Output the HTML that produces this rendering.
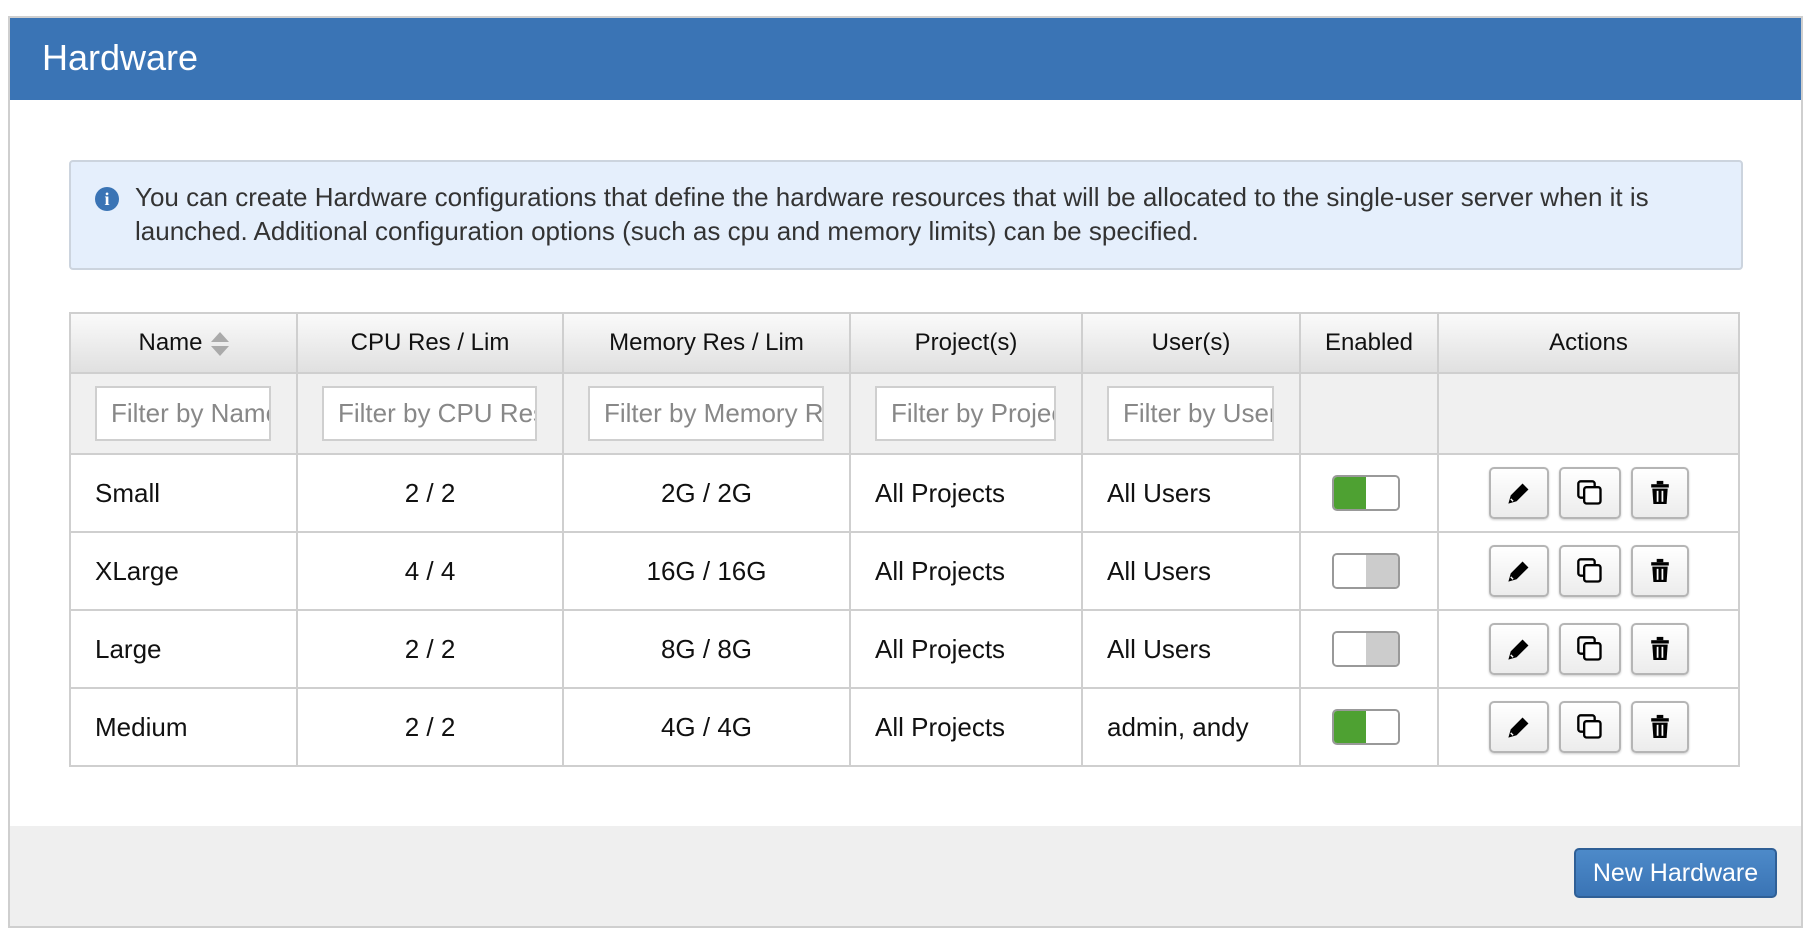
<!DOCTYPE html>
<html><head><meta charset="utf-8"><style>
*{box-sizing:border-box;margin:0;padding:0}
body{width:1814px;height:940px;background:#fff;font-family:"Liberation Sans",Arial,sans-serif;color:#111;position:relative;overflow:hidden}
.panel{position:absolute;left:8px;top:16px;width:1795px;height:912px;border:2px solid #cfcfcf;background:#fff}
.hdr{position:absolute;left:0;top:0;right:0;height:82px;background:#3a74b5;color:#fff;font-size:36px;padding:19px 0 0 32px}
.info{position:absolute;left:59px;top:142px;width:1674px;height:110px;background:#e5effc;border:2px solid #ccd4de;border-radius:4px;font-size:26px;line-height:34px;color:#333;padding:18px 0 0 64px;white-space:nowrap}
.info .ic{position:absolute;left:24px;top:25px;width:24px;height:24px;border-radius:50%;background:#3a74b5;color:#fff;font:bold 18px "Liberation Serif",serif;text-align:center;line-height:24px}
table{position:absolute;left:59px;top:294px;border-collapse:collapse;table-layout:fixed;font-size:26px}
td,th{border:2px solid #cfcfcf}
th{height:60px;font-weight:normal;background:linear-gradient(#fafafa,#e0e0e0);text-align:center;font-size:24px}
tr.f td{height:81px;background:#f0f0f0}
.inp{height:55px;border:2px solid #cfcfcf;background:#fff;color:#888;font-size:26px;padding:10px 14px;white-space:nowrap;overflow:hidden}
tr.r td{height:78px;background:#fff}
.c{text-align:center}.l{padding-left:24px}
.tg{display:inline-block;width:68px;height:36px;border:2px solid #999;border-radius:5px;overflow:hidden;vertical-align:middle;margin-left:-6px}
.tg span{display:inline-block;width:50%;height:100%;vertical-align:top}
.btn{display:inline-block;width:60px;height:52px;border:2px solid #b5b5b5;border-radius:5px;background:linear-gradient(#fff,#ececec);margin:0 5px;vertical-align:middle;position:relative;box-shadow:0 1px 2px rgba(0,0,0,.2)}
.btn svg{position:absolute;left:50%;top:50%;transform:translate(-50%,-50%)}
.foot{position:absolute;left:0;right:0;bottom:0;height:100px;background:#efefef}
.nb{position:absolute;right:24px;top:22px;width:203px;height:50px;background:linear-gradient(#4d8ac9,#3a74b5);border:2px solid #2f5f96;border-radius:5px;color:#fff;font-size:25px;text-align:center;line-height:46px}
.sort{display:inline-block;vertical-align:middle;margin-left:8px;width:18px;height:24px;position:relative}
.sort:before{content:"";position:absolute;left:0;top:0;border:9px solid transparent;border-bottom:10px solid #aaa;border-top:0}
.sort:after{content:"";position:absolute;left:0;bottom:0;border:9px solid transparent;border-top:10px solid #aaa;border-bottom:0}
</style></head><body>
<div class="panel">
<div class="hdr">Hardware</div>
<div class="info"><div class="ic">i</div>You can create Hardware configurations that define the hardware resources that will be allocated to the single-user server when it is<br>launched. Additional configuration options (such as cpu and memory limits) can be specified.</div>
<table>
<colgroup><col style="width:227px"><col style="width:266px"><col style="width:287px"><col style="width:232px"><col style="width:218px"><col style="width:138px"><col style="width:301px"></colgroup>
<tr><th>Name<span class="sort"></span></th><th>CPU Res / Lim</th><th>Memory Res / Lim</th><th>Project(s)</th><th>User(s)</th><th>Enabled</th><th>Actions</th></tr>
<tr class="f"><td style="padding-left:24px"><div class="inp" style="width:176px">Filter by Name</div></td><td style="padding-left:24px"><div class="inp" style="width:215px">Filter by CPU Res</div></td><td style="padding-left:24px"><div class="inp" style="width:236px">Filter by Memory Res</div></td><td style="padding-left:24px"><div class="inp" style="width:181px">Filter by Project</div></td><td style="padding-left:24px"><div class="inp" style="width:167px">Filter by User</div></td><td></td><td></td></tr>
<tr class="r"><td class="l">Small</td><td class="c">2 / 2</td><td class="c">2G / 2G</td><td class="l">All Projects</td><td class="l">All Users</td><td class="c"><span class="tg"><span style="background:#4ea132"></span><span style="background:#fff"></span></span></td><td class="c">B</td></tr>
<tr class="r"><td class="l">XLarge</td><td class="c">4 / 4</td><td class="c">16G / 16G</td><td class="l">All Projects</td><td class="l">All Users</td><td class="c"><span class="tg"><span style="background:#fff"></span><span style="background:#ccc"></span></span></td><td class="c">B</td></tr>
<tr class="r"><td class="l">Large</td><td class="c">2 / 2</td><td class="c">8G / 8G</td><td class="l">All Projects</td><td class="l">All Users</td><td class="c"><span class="tg"><span style="background:#fff"></span><span style="background:#ccc"></span></span></td><td class="c">B</td></tr>
<tr class="r"><td class="l">Medium</td><td class="c">2 / 2</td><td class="c">4G / 4G</td><td class="l">All Projects</td><td class="l">admin, andy</td><td class="c"><span class="tg"><span style="background:#4ea132"></span><span style="background:#fff"></span></span></td><td class="c">B</td></tr>
</table>
<div class="foot"><div class="nb">New Hardware</div></div>
</div>
<script>
var b='<span class="btn"><svg width="26" height="26" viewBox="0 0 22 22"><path d="M2 20 L4 13 L14 3 L19 8 L9 18 Z" fill="#000"/><path d="M4 16 L6 18" stroke="#fff" stroke-width="1.2"/></svg></span>'+
'<span class="btn" style="width:62px"><svg width="28" height="28" viewBox="0 0 24 24"><rect x="2" y="2" width="14" height="14" rx="2" fill="none" stroke="#000" stroke-width="2"/><rect x="7" y="7" width="14" height="14" rx="2" fill="#fff" stroke="#000" stroke-width="2"/></svg></span>'+
'<span class="btn" style="width:58px"><svg width="22" height="26" viewBox="0 0 20 22"><rect x="2" y="3" width="16" height="3" fill="#000"/><rect x="7" y="0" width="6" height="3" fill="#000"/><path d="M3 7 H17 L16 21 H4 Z" fill="#000"/><rect x="7" y="9" width="1.6" height="10" fill="#fff"/><rect x="11.4" y="9" width="1.6" height="10" fill="#fff"/></svg></span>';
document.querySelectorAll('tr.r td:last-child').forEach(function(t){t.innerHTML=b;});
</script>
</body></html>
